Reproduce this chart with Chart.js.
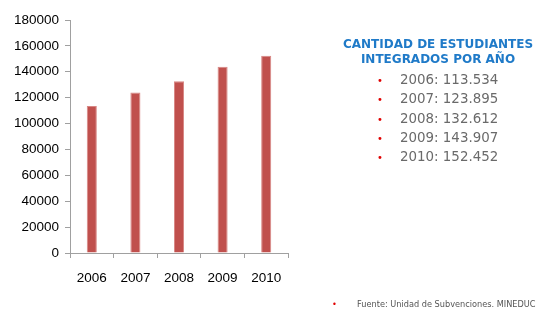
<!DOCTYPE html>
<html><head><meta charset="utf-8">
<script src="https://cdn.jsdelivr.net/npm/chart.js@4/dist/chart.umd.min.js"></script>
<style>
html,body{margin:0;padding:0;background:#fff;}
#wrap{position:relative;width:542px;height:311px;overflow:hidden;}
canvas{position:absolute;left:0;top:0;}
#title{position:absolute;left:328px;width:220px;top:37px;text-align:center;font:bold 12px "DejaVu Sans",Verdana,sans-serif;color:#1f7ac8;line-height:15px;}
#list{position:absolute;left:372px;top:70px;font:13.4px "DejaVu Sans",Verdana,sans-serif;color:#6a6a6a;margin:0;padding:0;list-style:none;}
#list li{height:19.3px;line-height:19.3px;white-space:nowrap;}
#list li span.b{display:inline-block;width:28px;color:#e00000;font-size:10px;padding-left:5px;box-sizing:border-box;}
#src{position:absolute;left:332px;top:299px;font:8.2px "DejaVu Sans",Verdana,sans-serif;color:#555;white-space:nowrap;}
#src span{color:#e00000;display:inline-block;width:25px;}
</style></head><body>
<div id="wrap">
<canvas id="c" width="542" height="311"></canvas>
<div id="title">CANTIDAD DE ESTUDIANTES<br>INTEGRADOS POR AÑO</div>
<ul id="list"></ul>
<div id="src"><span>•</span>Fuente: Unidad de Subvenciones. MINEDUC</div>
</div>
<script>
const years = ['2006','2007','2008','2009','2010'];
const students = [113534, 123895, 132612, 143907, 152452];
const listLabels = ['113.534','123.895','132.612','143.907','152.452'];

const ul = document.getElementById('list');
years.forEach((y,i)=>{
  const li=document.createElement('li');
  li.innerHTML='<span class="b">•</span>'+y+': '+listLabels[i];
  ul.appendChild(li);
});

new Chart(document.getElementById('c'), {
  type:'bar',
  data:{labels:years, datasets:[{data:students, backgroundColor:'#c0504d', borderColor:'#d88784', borderWidth:{left:1,right:1,top:1,bottom:0}, barPercentage:0.3, categoryPercentage:0.77}]},
  options:{
    responsive:false, animation:false,
    layout:{padding:{top:20,right:254,left:0,bottom:0}},
    plugins:{legend:{display:false}, tooltip:{enabled:false}},
    scales:{
      y:{min:0,max:180000,
        ticks:{stepSize:20000,color:'#000',font:{family:'"Liberation Sans", Arial, sans-serif',size:13.5},padding:6,callback:(v)=>String(v)},
        grid:{drawOnChartArea:false,drawTicks:true,tickLength:5,color:'#a0a0a0'},
        border:{color:'#a0a0a0'},
        afterFit:(s)=>{s.width=70;}
      },
      x:{
        ticks:{color:'#000',font:{family:'"Liberation Sans", Arial, sans-serif',size:13.5},padding:12},
        grid:{drawOnChartArea:false,drawTicks:true,tickLength:5,color:'#a0a0a0',offset:true},
        border:{color:'#a0a0a0'},
        afterFit:(s)=>{s.height=58;}
      }
    }
  }
});
</script>
</body></html>
